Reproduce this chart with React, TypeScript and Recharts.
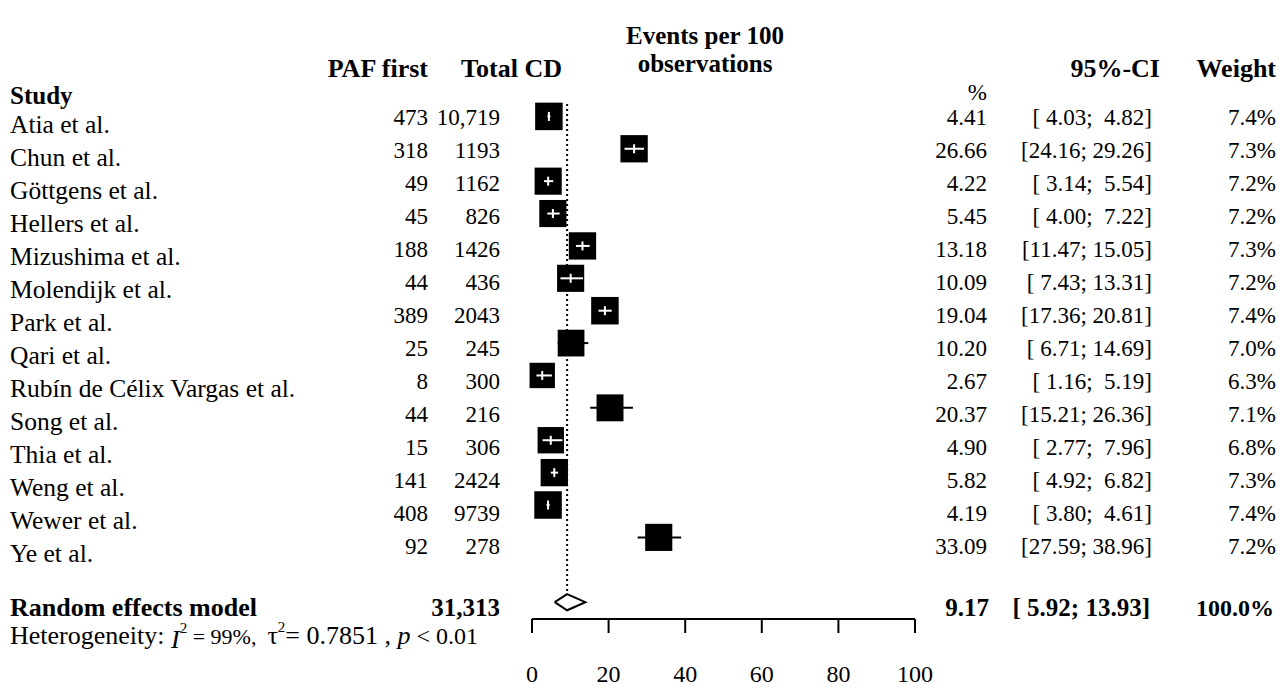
import { ScatterChart, Scatter, XAxis, YAxis } from "recharts";

if (typeof document !== "undefined") document.body.style.margin = "0";

// study rows
const STUDIES = [
    "Atia et al.",
    "Chun et al.",
    "Göttgens et al.",
    "Hellers et al.",
    "Mizushima et al.",
    "Molendijk et al.",
    "Park et al.",
    "Qari et al.",
    "Rubín de Célix Vargas et al.",
    "Song et al.",
    "Thia et al.",
    "Weng et al.",
    "Wewer et al.",
    "Ye et al.",
];
const PAF_FIRST = [473, 318, 49, 45, 188, 44, 389, 25, 8, 44, 15, 141, 408, 92];
const TOTAL_CD = [10719, 1193, 1162, 826, 1426, 436, 2043, 245, 300, 216, 306, 2424, 9739, 278];
const EST = [4.41, 26.66, 4.22, 5.45, 13.18, 10.09, 19.04, 10.2, 2.67, 20.37, 4.9, 5.82, 4.19, 33.09];
const LOWER = [4.03, 24.16, 3.14, 4.0, 11.47, 7.43, 17.36, 6.71, 1.16, 15.21, 2.77, 4.92, 3.8, 27.59];
const UPPER = [4.82, 29.26, 5.54, 7.22, 15.05, 13.31, 20.81, 14.69, 5.19, 26.36, 7.96, 6.82, 4.61, 38.96];
const WEIGHT = [7.4, 7.3, 7.2, 7.2, 7.3, 7.2, 7.4, 7.0, 6.3, 7.1, 6.8, 7.3, 7.4, 7.2];

// random effects model
const POOLED_TOTAL = 31313;
const POOLED_EST = 9.17;
const POOLED_LOWER = 5.92;
const POOLED_UPPER = 13.93;
const POOLED_WEIGHT = 100.0;

const X_TICKS = [0, 20, 40, 60, 80, 100];

const W = 1280;
const H = 688;
const PLOT_LEFT = 532;
const PLOT_RIGHT = 915;
const PLOT_TOP = 84;
const PLOT_BOTTOM = 619;
const Y_MIN = -1;
const Y_MAX = 15.52;
const PX_PER_UNIT = (PLOT_RIGHT - PLOT_LEFT) / 100;
const SUMMARY_ROW = 15;

// text rows sit on a slightly looser grid than the boxes, as in the original
const TEXT_STEP = 33;
const NUM_BASE = 124.5;
const NAME_BASE = 132.5;

const FONT = '"Liberation Serif", "Times New Roman", serif';

const fmtN = (n: number) => (n >= 10000 ? n.toLocaleString("en-US") : String(n));
const fmtCI = (lo: number, hi: number) =>
    `[${lo.toFixed(2).padStart(5, " ")}; ${hi.toFixed(2).padStart(5, " ")}]`;
const boxSize = (w: number) => 27.5 * Math.sqrt(w / 7.4);

const rows = STUDIES.map((name, i) => ({
    name,
    x: EST[i],
    y: i,
    lo: LOWER[i],
    hi: UPPER[i],
    w: WEIGHT[i],
    inside:
        (UPPER[i] - EST[i]) * PX_PER_UNIT <= boxSize(WEIGHT[i]) / 2 &&
        (EST[i] - LOWER[i]) * PX_PER_UNIT <= boxSize(WEIGHT[i]) / 2,
}));

const Empty = () => <g />;

const Box = (props: any) => {
    const { cx, cy, payload } = props;
    const s = boxSize(payload.w);
    return (
        <g>
            <rect x={cx - s / 2} y={cy - s / 2} width={s} height={s} fill="#000" />
            {payload.inside && (
                <line x1={cx} x2={cx} y1={cy - 4.5} y2={cy + 4.5} stroke="#fff" strokeWidth={2} />
            )}
        </g>
    );
};

const ciSeries = (r: (typeof rows)[number], color: string) => (
    <Scatter
        key={`ci-${r.y}`}
        data={[
            { x: r.lo, y: r.y },
            { x: r.hi, y: r.y },
        ]}
        fill={color}
        line={{ stroke: color, strokeWidth: 2 }}
        lineType="joint"
        shape={Empty}
        isAnimationActive={false}
    />
);

function TableText() {
    const bold = { fontWeight: 700 } as const;
    const sumBase = 616;
    const hetBase = 644;
    return (
        <svg
            width={W}
            height={H}
            style={{ position: "absolute", left: 0, top: 0, pointerEvents: "none" }}
            fontFamily={FONT}
            fontSize={23}
            fill="#000"
        >
            {/* headers */}
            <text x={10} y={104} fontSize={25} {...bold}>Study</text>
            <text x={428} y={77} fontSize={26} textAnchor="end" {...bold}>PAF first</text>
            <text x={562} y={77} fontSize={26} textAnchor="end" {...bold}>Total CD</text>
            <text x={705} y={44} fontSize={25} textAnchor="middle" {...bold}>Events per 100</text>
            <text x={705} y={72} fontSize={25} textAnchor="middle" {...bold}>observations</text>
            <text x={987} y={100} textAnchor="end">%</text>
            <text x={1160} y={77} fontSize={26} textAnchor="end" {...bold}>95%-CI</text>
            <text x={1276} y={77} fontSize={26} textAnchor="end" {...bold}>Weight</text>

            {rows.map((r, i) => {
                const base = NUM_BASE + i * TEXT_STEP;
                return (
                    <g key={r.name}>
                        <text x={10} y={NAME_BASE + i * TEXT_STEP} fontSize={25.5}>{r.name}</text>
                        <text x={428} y={base} textAnchor="end">{fmtN(PAF_FIRST[i])}</text>
                        <text x={500} y={base} textAnchor="end">{fmtN(TOTAL_CD[i])}</text>
                        <text x={987} y={base} textAnchor="end">{EST[i].toFixed(2)}</text>
                        <text x={1152} y={base} textAnchor="end" style={{ whiteSpace: "pre" }}>
                            {fmtCI(LOWER[i], UPPER[i])}
                        </text>
                        <text x={1276} y={base} textAnchor="end">{WEIGHT[i].toFixed(1)}%</text>
                    </g>
                );
            })}

            {/* summary */}
            <text x={10} y={sumBase} fontSize={26} {...bold}>Random effects model</text>
            <text x={500} y={sumBase} fontSize={25} textAnchor="end" {...bold}>{fmtN(POOLED_TOTAL)}</text>
            <text x={989} y={sumBase} fontSize={25} textAnchor="end" {...bold}>{POOLED_EST.toFixed(2)}</text>
            <text x={1150} y={sumBase} fontSize={25} textAnchor="end" style={{ whiteSpace: "pre" }} {...bold}>
                {fmtCI(POOLED_LOWER, POOLED_UPPER)}
            </text>
            <text x={1274} y={sumBase} fontSize={24} textAnchor="end" {...bold}>{POOLED_WEIGHT.toFixed(1)}%</text>

            <text x={10} y={hetBase} fontSize={26} style={{ whiteSpace: "pre" }}>
                Heterogeneity:{" "}
                <tspan fontStyle="italic" dy={4}>I</tspan>
                <tspan fontSize={15} dy={-15}>2</tspan>
                <tspan fontSize={22} dy={11}> = 99%,  </tspan>
                <tspan>τ</tspan>
                <tspan fontSize={15} dy={-12}>2</tspan>
                <tspan dy={12}>= 0.7851 , </tspan>
                <tspan fontStyle="italic">p</tspan>
                <tspan fontSize={24}> &lt; 0.01</tspan>
            </text>
        </svg>
    );
}

export default function App() {
    const outside = rows.filter((r) => !r.inside);
    const inside = rows.filter((r) => r.inside);

    const diamond = [
        { x: POOLED_LOWER, y: SUMMARY_ROW },
        { x: POOLED_EST, y: SUMMARY_ROW - 0.25 },
        { x: POOLED_UPPER, y: SUMMARY_ROW },
        { x: POOLED_EST, y: SUMMARY_ROW + 0.25 },
        { x: POOLED_LOWER, y: SUMMARY_ROW },
    ];
    const refLine = [
        { x: POOLED_EST, y: -0.38 },
        { x: POOLED_EST, y: SUMMARY_ROW - 0.25 },
    ];

    return (
        <div style={{ position: "relative", width: W, height: H, background: "#fff" }}>
            <ScatterChart
                width={W}
                height={H}
                margin={{ top: PLOT_TOP, right: W - PLOT_RIGHT, bottom: 0, left: PLOT_LEFT }}
            >
                <XAxis
                    type="number"
                    dataKey="x"
                    domain={[0, 100]}
                    ticks={X_TICKS}
                    height={H - PLOT_BOTTOM}
                    axisLine={{ stroke: "#000", strokeWidth: 2 }}
                    tickLine={{ stroke: "#000", strokeWidth: 2 }}
                    tickSize={14}
                    tickMargin={32}
                    tick={{ fontSize: 24, fill: "#000", fontFamily: FONT }}
                />
                <YAxis type="number" dataKey="y" domain={[Y_MIN, Y_MAX]} reversed hide />

                <Scatter
                    data={refLine}
                    fill="#000"
                    line={{ stroke: "#000", strokeWidth: 2, strokeDasharray: "2 3" }}
                    lineType="joint"
                    shape={Empty}
                    isAnimationActive={false}
                />
                {outside.map((r) => ciSeries(r, "#000"))}
                <Scatter data={rows} fill="#000" shape={Box} isAnimationActive={false} />
                {inside.map((r) => ciSeries(r, "#fff"))}
                <Scatter
                    data={diamond}
                    fill="#000"
                    line={{ stroke: "#000", strokeWidth: 2, fill: "none" }}
                    lineType="joint"
                    shape={Empty}
                    isAnimationActive={false}
                />
            </ScatterChart>
            <TableText />
        </div>
    );
}
